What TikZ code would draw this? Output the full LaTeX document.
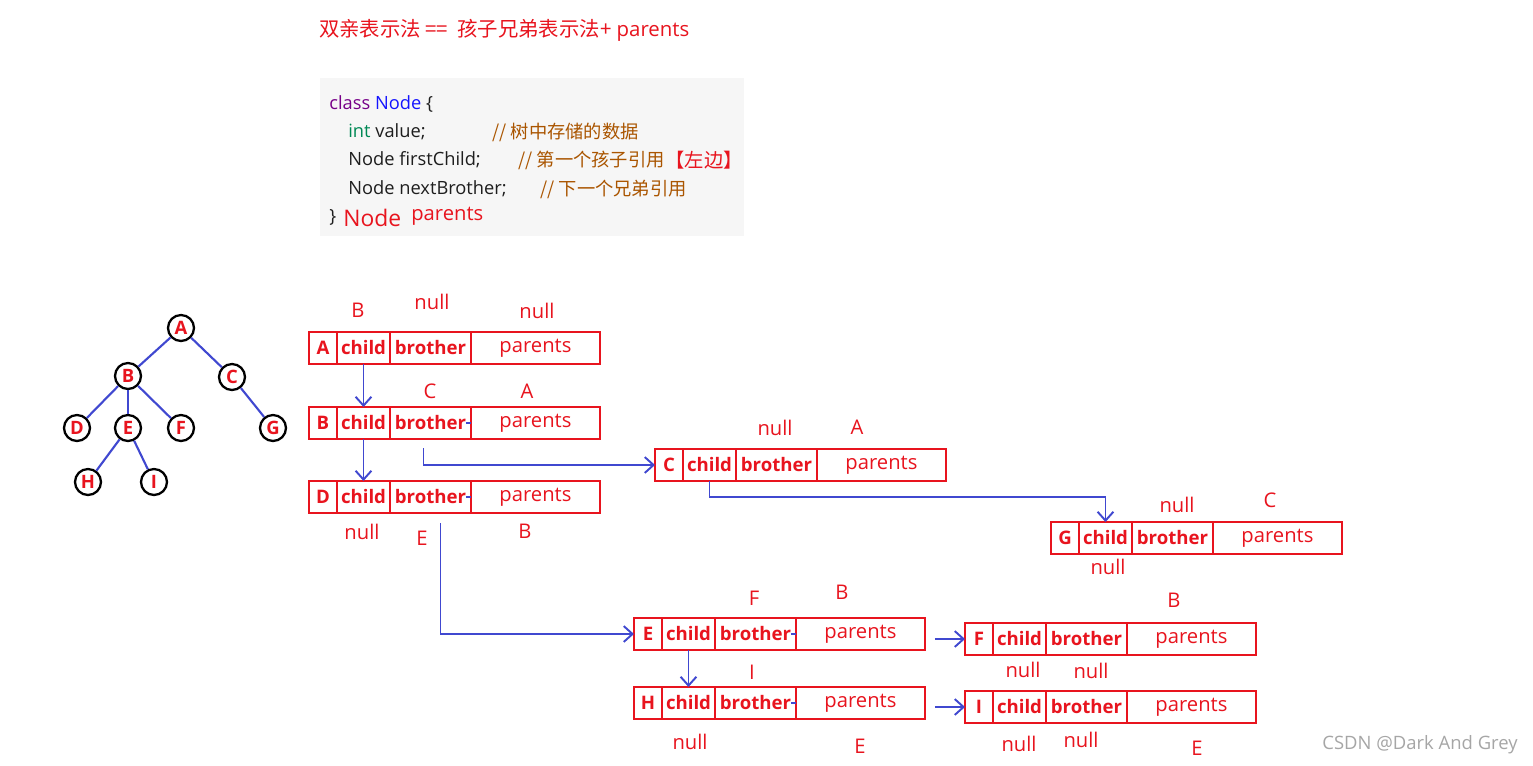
\documentclass[tikz,border=0pt]{standalone}
\usepackage{fontspec}
\setmainfont{Open Sans}
\newfontfamily\cjk{Noto Sans CJK SC}
\usetikzlibrary{calc,arrows.meta}
\definecolor{recred}{RGB}{232,20,30}
\definecolor{linkblue}{RGB}{64,72,208}
\definecolor{codebg}{RGB}{246,246,246}
\definecolor{kwpurple}{RGB}{119,0,136}
\definecolor{clsblue}{RGB}{20,20,255}
\definecolor{typgreen}{RGB}{0,136,85}
\definecolor{cmtbrown}{RGB}{170,85,0}
\definecolor{codetext}{RGB}{30,30,30}
\tikzset{cell/.style={draw=recred,line width=0.9pt,minimum height=0.64cm,
   inner sep=0pt,outer sep=0pt,text=recred,font=\fontsize{10.6}{12}\selectfont\bfseries},
 pcell/.style={cell,line width=1.6pt,font=\fontsize{11.5}{13}\selectfont},
 lbl/.style={text=recred,font=\fontsize{11.5}{13}\selectfont},
 code/.style={anchor=west,inner sep=0pt,text=codetext,font=\fontsize{10.4}{12}\selectfont},
 link/.style={draw=linkblue,line width=1.1pt,-{Straight Barb[length=5pt,width=9pt]}},
 stub/.style={draw=linkblue,line width=1.1pt},
 tnode/.style={circle,draw=black,line width=1.3pt,fill=white,minimum size=0.52cm,
   inner sep=0pt,text=recred,font=\fontsize{10.5}{12}\selectfont\bfseries},
 tedge/.style={draw=linkblue,line width=1.2pt},
 }
% one record: letter | child | brother | parents
\newcommand{\drawrecord}[2]{%
 \node[cell,minimum width=0.56cm,anchor=north west] (#1-l) at (#2) {#1};
 \node[cell,minimum width=1.06cm,anchor=west] (#1-c) at (#1-l.east) {child};
 \node[cell,minimum width=1.62cm,anchor=west] (#1-b) at (#1-c.east) {brother};
 \node[pcell,minimum width=2.58cm,anchor=west] (#1-p) at (#1-b.east) {parents};
}
\begin{document}
\begin{tikzpicture}[x=0.02cm,y=-0.02cm]
    \useasboundingbox[fill=white] (0,0) rectangle (1533,765);

    % title
    \node[lbl,anchor=west,font=\fontsize{11.6}{14}\selectfont] (title) at (313,30)
        {{\cjk 双亲表示法 ==\ \ 孩子兄弟表示法+}\ parents};

    % code block
    \fill[codebg] (320,78) rectangle (744,236);
    \node[code] (c1) at (329,104) {{\color{kwpurple}class} {\color{clsblue}Node} \{};
    \node[code] (c2) at (348,132) {{\color{typgreen}int} value;};
    \node[code,text=cmtbrown] (c2c) at (492,132) {\cjk // 树中存储的数据};
    \node[code] (c3) at (348,160) {Node firstChild;};
    \node[code,text=cmtbrown] (c3c) at (518,160) {\cjk // 第一个孩子引用};
    \node[code,text=recred,font=\fontsize{11}{13}\selectfont] (c3r) at (c3c.east) {\cjk 【左边】};
    \node[code] (c4) at (348,189) {Node nextBrother;};
    \node[code,text=cmtbrown] (c4c) at (540,189) {\cjk // 下一个兄弟引用};
    \node[code] (c5) at (329,217) {\}};
    \node[code,text=recred,font=\fontsize{13}{15}\selectfont] (c5n) at (343,218) {Node};
    \node[code,text=recred,font=\fontsize{11.5}{13}\selectfont] (c5p) at (411,216) {parents};

    % tree
    \node[tnode] (tA) at (181,328) {A};
    \node[tnode] (tB) at (128,376) {B};
    \node[tnode] (tC) at (232,377) {C};
    \node[tnode] (tD) at (77,428) {D};
    \node[tnode] (tE) at (128,428) {E};
    \node[tnode] (tF) at (181,428) {F};
    \node[tnode] (tG) at (273,428) {G};
    \node[tnode] (tH) at (88,482) {H};
    \node[tnode] (tI) at (154,482) {I};
    \draw[tedge] (tA) -- (tB);
    \draw[tedge] (tA) -- (tC);
    \draw[tedge] (tB) -- (tD);
    \draw[tedge] (tB) -- (tE);
    \draw[tedge] (tB) -- (tF);
    \draw[tedge] (tC) -- (tG);
    \draw[tedge] (tE) -- (tH);
    \draw[tedge] (tE) -- (tI);

    % records
    \drawrecord{A}{309,332}
    \drawrecord{B}{309,407}
    \drawrecord{D}{309,481}
    \drawrecord{C}{655,449}
    \drawrecord{G}{1051,522}
    \drawrecord{E}{634,618}
    \drawrecord{H}{634,687}
    \drawrecord{F}{965,623}
    \drawrecord{I}{965,691}

    % values over and under the records
    \node[lbl] (aC) at (358,310) {B};
    \node[lbl] (aB) at (432,302) {null};
    \node[lbl] (aP) at (537,311) {null};
    \node[lbl] (bB) at (430,391) {C};
    \node[lbl] (bP) at (527,391) {A};
    \node[lbl] (dC) at (362,532) {null};
    \node[lbl] (dB) at (422,538) {E};
    \node[lbl] (dP) at (525,531) {B};
    \node[lbl] (cB) at (775,428) {null};
    \node[lbl] (cP) at (857,427) {A};
    \node[lbl] (gB) at (1177,505) {null};
    \node[lbl] (gP) at (1270,500) {C};
    \node[lbl] (gC) at (1108,567) {null};
    \node[lbl] (eB) at (754,598) {F};
    \node[lbl] (eP) at (842,592) {B};
    \node[lbl] (hB) at (752,672) {I};
    \node[lbl] (hC) at (690,742) {null};
    \node[lbl] (hP) at (860,746) {E};
    \node[lbl] (fP) at (1174,600) {B};
    \node[lbl] (fC) at (1023,670) {null};
    \node[lbl] (fB) at (1091,671) {null};
    \node[lbl] (iC) at (1019,744) {null};
    \node[lbl] (iB) at (1081,740) {null};
    \node[lbl] (iP) at (1197,748) {E};

    % links
    \draw[link] (A-c.south) -- (B-c.north);
    \draw[link] (B-c.south) -- (D-c.north);
    \draw[link] ($(B-b.south)+(-7,9)$) |- (C-l.west);
    \draw[link] (C-c.south) -- ++(0,16) -| (G-c.north);
    \draw[link] ($(D-b.south)+(10,10)$) |- (E-l.west);
    \draw[link] (E-c.south) -- (H-c.north);
    \coordinate (ef) at ($(E-p.east)+(10,0)$);
    \coordinate (hi) at ($(H-p.east)+(10,0)$);
    \draw[link] (ef |- F-l.west) -- (F-l.west);
    \draw[link] (hi |- I-l.west) -- (I-l.west);
    \draw[stub] ([xshift=-0.1cm]B-b.east) -- (B-b.east);
    \draw[stub] ([xshift=-0.1cm]D-b.east) -- (D-b.east);
    \draw[stub] ([xshift=-0.1cm]E-b.east) -- (E-b.east);
    \draw[stub] ([xshift=-0.1cm]H-b.east) -- (H-b.east);

    % watermark
    \node[text=gray!70,font=\fontsize{10.5}{12}\selectfont] (wm) at (1420,745) {CSDN @Dark And Grey};
\end{tikzpicture}
\end{document}
